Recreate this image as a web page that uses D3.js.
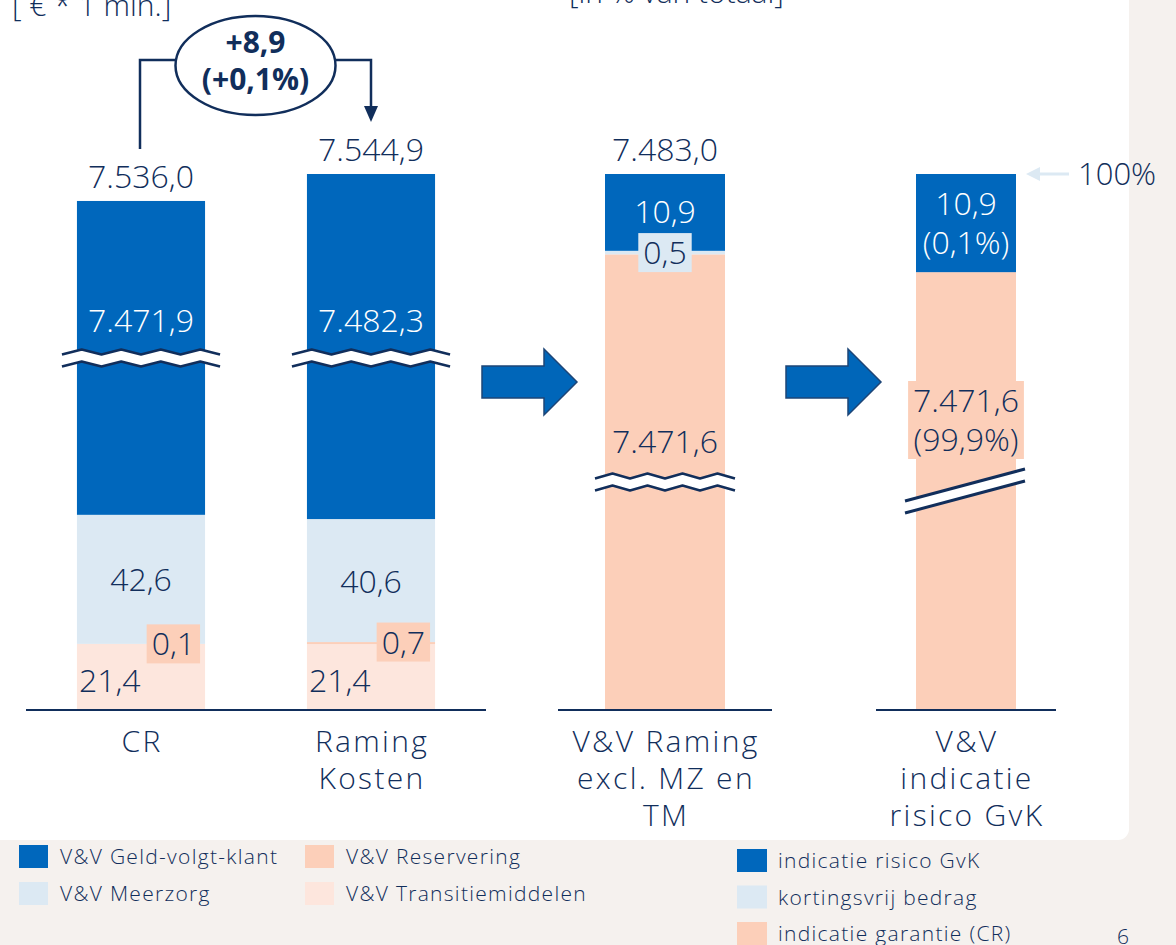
<!DOCTYPE html>
<html>
<head>
<meta charset="utf-8">
<script src="https://cdn.jsdelivr.net/npm/d3@7"></script>
<style>
	body { margin: 0; background: #f5f1ee; }
	svg { display: block; font-family: 'Open Sans', sans-serif; font-weight: 300; }
</style>
</head>
<body>
<script>
// Zorgkosten V&V: CR vs raming, and the guarantee split
const width = 1176;
const height = 945;

const navy = '#112e5b';
const colGvk = '#0067bc';
const colMz = '#dce9f3';
const colRes = '#fccfb9';
const colTm = '#fde6dd';

// left panel: CR and Raming Kosten (€ * 1 mln.)
const catsLeft = ['CR', 'Raming Kosten'];
const gvk = [7471.9, 7482.3];
const meerzorg = [42.6, 40.6];
const reservering = [0.1, 0.7];
const transitie = [21.4, 21.4];
const totalsLeft = [7536.0, 7544.9];
const delta = 8.9;
const deltaPct = 0.1;

// right panels: V&V raming split in garantie / kortingsvrij / risico
const catsRight = ['V&V Raming excl. MZ en TM', 'V&V indicatie risico GvK'];
const garantie = [7471.6, 7471.6];
const kortingsvrij = [0.5, 0];
const risico = [10.9, 10.9];
const totalsRight = [7483.0, 7482.5];
const garantiePct = [null, 99.9];
const risicoPct = [null, 0.1];

// category labels, split in lines as on the slide
const catLines = [['CR'], ['Raming', 'Kosten'], ['V&V Raming', 'excl. MZ en', 'TM'], ['V&V', 'indicatie', 'risico GvK']];

const legendLeft = ['V&V Geld-volgt-klant', 'V&V Meerzorg', 'V&V Reservering', 'V&V Transitiemiddelen'];
const legendRight = ['indicatie risico GvK', 'kortingsvrij bedrag', 'indicatie garantie (CR)'];

const nl = d3.formatLocale({decimal: ',', thousands: '.', grouping: [3], currency: ['€ ', '']});
const fmt = nl.format(',.1f');
const fmtSigned = nl.format('+,.1f');

const baseY = 709;

const svg = d3.select('body').append('svg')
	.attr('width', width)
	.attr('height', height)
	.attr('viewBox', [0, 0, width, height]);

// white slide panel
svg.append('rect')
	.attr('x', -20).attr('y', -20)
	.attr('width', 1149).attr('height', 860)
	.attr('rx', 11)
	.attr('fill', '#fff');

// clipped titles at the top
svg.append('text').attr('x', 12).attr('y', 16)
	.attr('font-size', 30).attr('fill', navy)
	.text('[ € * 1 mln.]');
svg.append('text').attr('x', 569).attr('y', 3)
	.attr('font-size', 30).attr('fill', navy)
	.text('[in % van totaal]');

// x scales: one band scale per panel
const xLeft = d3.scaleBand().domain(catsLeft).range([26, 486]).paddingInner(0.443).paddingOuter(0.2215);
const xR3 = d3.scaleBand().domain([catsRight[0]]).range([558, 772]).padding(0.2815);
const xR4 = d3.scaleBand().domain([catsRight[1]]).range([876, 1056]).padding(0.2857);
const xRight = [xR3, xR4];

// y scales with a broken axis (polylinear)
const yLeft = d3.scaleLinear().domain([0, 116.2, 7484.5, 7544.9]).range([baseY, 357, 357, 174]);
const yR3 = d3.scaleLinear().domain([0, 7439.3, 7483.0]).range([baseY, 482, 174]);
const yR4 = d3.scaleLinear().domain([0, 7447.3, 7482.5]).range([baseY, 491, 174]);
const yRight = [yR3, yR4];

// baselines
[xLeft, xR3, xR4].forEach(x => {
	svg.append('line')
		.attr('x1', x.range()[0]).attr('x2', x.range()[1])
		.attr('y1', baseY + 1).attr('y2', baseY + 1)
		.attr('stroke', navy).attr('stroke-width', 2);
});

// left stacked bars; the top of the stack is the reported total
const leftTable = catsLeft.map((c, i) => ({cat: c, tm: transitie[i], res: reservering[i], mz: meerzorg[i], gvk: gvk[i]}));
const leftKeys = ['tm', 'res', 'mz', 'gvk'];
const leftColors = {tm: colTm, res: colRes, mz: colMz, gvk: colGvk};
const leftStack = d3.stack().keys(leftKeys)(leftTable);
const topOf = (d, i, key) => key === 'gvk' ? totalsLeft[i] : d[1];

leftStack.forEach(s => {
	svg.append('g')
		.attr('fill', leftColors[s.key])
		.selectAll('rect')
		.data(s)
		.join('rect')
		.attr('x', d => xLeft(d.data.cat))
		.attr('width', xLeft.bandwidth())
		.attr('y', (d, i) => yLeft(topOf(d, i, s.key)))
		.attr('height', (d, i) => yLeft(d[0]) - yLeft(topOf(d, i, s.key)));
});

// right stacked bars, each with its own scale
const rightTable = catsRight.map((c, i) => ({cat: c, gar: garantie[i], kv: kortingsvrij[i], risk: risico[i]}));
const rightKeys = ['gar', 'kv', 'risk'];
const rightColors = {gar: colRes, kv: colMz, risk: colGvk};
const rightStack = d3.stack().keys(rightKeys)(rightTable);

rightStack.forEach(s => {
	s.forEach((d, i) => {
		if (d[1] - d[0] <= 0) return;
		svg.append('rect')
			.attr('x', xRight[i](d.data.cat))
			.attr('width', xRight[i].bandwidth())
			.attr('y', yRight[i](d[1]))
			.attr('height', yRight[i](d[0]) - yRight[i](d[1]))
			.attr('fill', rightColors[s.key]);
	});
});

// axis break symbols
function zigzag(x0, x1, y, n, amp) {
	return d3.range(n + 1).map(k => [x0 + (x1 - x0) * k / n, y + (k % 2 ? -amp : amp)]);
}
function waveBreak(x0, x1, yc, n) {
	const top = zigzag(x0, x1, yc - 6, n, 2.5);
	const bot = zigzag(x0, x1, yc + 6, n, 2.5);
	const g = svg.append('g');
	g.append('path')
		.attr('d', d3.line()(top.concat(bot.slice().reverse())) + 'Z')
		.attr('fill', '#fff');
	[top, bot].forEach(p => g.append('path')
		.attr('d', d3.line()(p))
		.attr('fill', 'none').attr('stroke', navy).attr('stroke-width', 2.5)
		.attr('stroke-linejoin', 'round'));
}
catsLeft.forEach(c => waveBreak(xLeft(c) - 15, xLeft(c) + xLeft.bandwidth() + 15, yLeft(116.2) + 1, 8));
waveBreak(xR3(catsRight[0]) - 10, xR3(catsRight[0]) + xR3.bandwidth() + 10, yR3(7439.3), 8);

// diagonal break on the last bar
{
	const x0 = xR4(catsRight[1]) - 11;
	const x1 = xR4(catsRight[1]) + xR4.bandwidth() + 9;
	const yc = yR4(7447.3);
	const tl = [x0, yc + 10], tr = [x1, yc - 22];
	const g = svg.append('g');
	g.append('path')
		.attr('d', d3.line()([tl, tr, [tr[0], tr[1] + 12], [tl[0], tl[1] + 12]]) + 'Z')
		.attr('fill', '#fff');
	[0, 12].forEach(o => g.append('line')
		.attr('x1', tl[0]).attr('y1', tl[1] + o)
		.attr('x2', tr[0]).attr('y2', tr[1] + o)
		.attr('stroke', navy).attr('stroke-width', 3));
}

// value labels
const labels = svg.append('g').attr('font-size', 32).attr('fill', navy).attr('text-anchor', 'middle');

function boxLabel(x, yc, lines, fill, anchor) {
	const g = svg.append('g').attr('font-size', 32).attr('fill', navy).attr('text-anchor', anchor || 'middle');
	lines.forEach((t, k) => g.append('text')
		.attr('x', x)
		.attr('y', yc - (lines.length - 1) * 19.5 + k * 39 + 11.5)
		.text(t));
	const bb = g.node().getBBox();
	g.insert('rect', 'text')
		.attr('x', bb.x - 5).attr('width', bb.width + 10)
		.attr('y', yc - lines.length * 19.5).attr('height', lines.length * 39)
		.attr('fill', fill);
	return g;
}

catsLeft.forEach((c, i) => {
	const cx = xLeft(c) + xLeft.bandwidth() / 2;
	labels.append('text').attr('x', cx).attr('y', yLeft(totalsLeft[i]) - 13).text(fmt(totalsLeft[i]));
	labels.append('text').attr('x', cx).attr('y', yLeft(116.2) - 25).attr('fill', '#fff').text(fmt(gvk[i]));
	const mzMid = transitie[i] + reservering[i] + meerzorg[i] / 2;
	labels.append('text').attr('x', cx).attr('y', yLeft(mzMid) + 12).text(fmt(meerzorg[i]));
	labels.append('text').attr('x', xLeft(c) + 2).attr('y', yLeft(transitie[i] / 2) + 15)
		.attr('text-anchor', 'start').text(fmt(transitie[i]));
	boxLabel(xLeft(c) + xLeft.bandwidth() - 10, yLeft(transitie[i] + reservering[i]), [fmt(reservering[i])], colRes, 'end');
});

// bar 3
{
	const c = catsRight[0], cx = xR3(c) + xR3.bandwidth() / 2;
	labels.append('text').attr('x', cx).attr('y', yR3(totalsRight[0]) - 13).text(fmt(totalsRight[0]));
	labels.append('text').attr('x', cx).attr('y', yR3(garantie[0] + kortingsvrij[0] + risico[0] / 2) + 11)
		.attr('fill', '#fff').text(fmt(risico[0]));
	boxLabel(cx, yR3(garantie[0] + kortingsvrij[0] / 2), [fmt(kortingsvrij[0])], colMz);
	labels.append('text').attr('x', cx).attr('y', yR3(7439.3) - 29).text(fmt(garantie[0]));
}

// bar 4 (with shares)
{
	const c = catsRight[1], cx = xR4(c) + xR4.bandwidth() / 2;
	const mid = yR4(garantie[1] + risico[1] / 2);
	[fmt(risico[1]), '(' + fmt(risicoPct[1]) + '%)'].forEach((t, k) => labels.append('text')
		.attr('x', cx).attr('y', mid - 19.5 + k * 39 + 11.5)
		.attr('fill', '#fff').text(t));
	boxLabel(cx, yR4(7447.3) - 71, [fmt(garantie[1]), '(' + fmt(garantiePct[1]) + '%)'], colRes);

	// 100% marker
	const yTop = yR4(totalsRight[1]);
	const ax = xR4(c) + xR4.bandwidth() + 10;
	svg.append('line').attr('x1', ax + 10).attr('x2', ax + 43).attr('y1', yTop).attr('y2', yTop)
		.attr('stroke', colMz).attr('stroke-width', 3);
	svg.append('path')
		.attr('d', d3.line()([[ax, yTop], [ax + 14, yTop - 7], [ax + 14, yTop + 7]]) + 'Z')
		.attr('fill', colMz);
	svg.append('text').attr('x', ax + 52).attr('y', yTop + 11)
		.attr('font-size', 31).attr('fill', navy).text('100%');
}

// delta bracket between CR and Raming Kosten
{
	const xa = xLeft(catsLeft[0]) + xLeft.bandwidth() / 2 - 1;
	const xb = xLeft(catsLeft[1]) + xLeft.bandwidth() / 2;
	const cx = (xa + xb) / 2;
	const yl = 60;
	const g = svg.append('g').attr('stroke', navy).attr('stroke-width', 2.5).attr('fill', 'none');
	g.append('path').attr('d', d3.line()([[xa, yLeft(totalsLeft[0]) - 52], [xa, yl], [cx - 80, yl]]));
	g.append('path').attr('d', d3.line()([[cx + 80, yl], [xb, yl], [xb, yLeft(totalsLeft[1]) - 60]]));
	g.append('ellipse').attr('cx', cx).attr('cy', 65.5).attr('rx', 80).attr('ry', 49.5).attr('fill', '#fff');
	svg.append('path')
		.attr('d', d3.line()([[xb - 7, yLeft(totalsLeft[1]) - 68], [xb + 7, yLeft(totalsLeft[1]) - 68], [xb, yLeft(totalsLeft[1]) - 52]]) + 'Z')
		.attr('fill', navy);
	const t = svg.append('g').attr('font-size', 30).attr('font-weight', 700).attr('fill', navy).attr('text-anchor', 'middle');
	t.append('text').attr('x', cx).attr('y', 53).text(fmtSigned(delta));
	t.append('text').attr('x', cx).attr('y', 90).text('(' + fmtSigned(deltaPct) + '%)');
}

// block arrows between panels
[[482, 382], [786, 382]].forEach(([x0, yc]) => {
	svg.append('path')
		.attr('d', d3.line()([[x0, yc - 16], [x0 + 62, yc - 16], [x0 + 62, yc - 33], [x0 + 95, yc],
			[x0 + 62, yc + 33], [x0 + 62, yc + 16], [x0, yc + 16]]) + 'Z')
		.attr('fill', '#0066b9').attr('stroke', '#1d4577').attr('stroke-width', 1.5);
});

// category labels
const catScales = [xLeft, xLeft, xR3, xR4];
const allCats = catsLeft.concat(catsRight);
const cl = svg.append('g').attr('font-size', 30).attr('letter-spacing', 2.3).attr('fill', navy).attr('text-anchor', 'middle');
allCats.forEach((c, i) => {
	const x = catScales[i];
	catLines[i].forEach((line, k) => cl.append('text')
		.attr('x', x(c) + x.bandwidth() / 2 + 1)
		.attr('y', 752 + k * 37)
		.text(line));
});

// legends
const lg = svg.append('g').attr('font-size', 21).attr('letter-spacing', 1.3).attr('fill', navy);
const legLeftColors = [colGvk, colMz, colRes, colTm];
legendLeft.forEach((t, i) => {
	const x = 19 + Math.floor(i / 2) * 286, y = 845 + (i % 2) * 37;
	lg.append('rect').attr('x', x).attr('y', y).attr('width', 29).attr('height', 23).attr('fill', legLeftColors[i]);
	lg.append('text').attr('x', x + 41).attr('y', y + 19).text(t);
});
const legRightColors = [colGvk, colMz, colRes];
legendRight.forEach((t, i) => {
	const x = 737, y = 849 + i * 36.5;
	lg.append('rect').attr('x', x).attr('y', y).attr('width', 30).attr('height', 23).attr('fill', legRightColors[i]);
	lg.append('text').attr('x', x + 41).attr('y', y + 19).text(t);
});
lg.append('text').attr('x', 1117).attr('y', 944).text('6');
</script>
</body>
</html>
